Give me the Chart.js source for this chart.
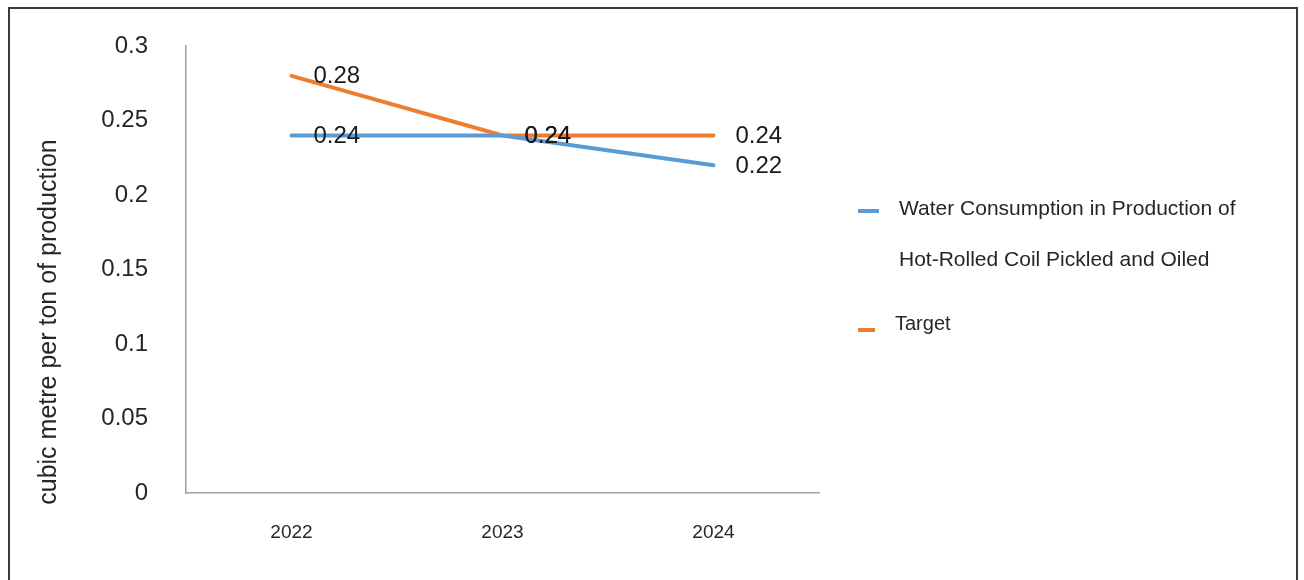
<!DOCTYPE html>
<html>
<head>
<meta charset="utf-8">
<script src="https://cdn.jsdelivr.net/npm/chart.js@4"></script>
<style>
  body { margin: 0; background: #fff; }
  #wrap { position: relative; width: 1304px; height: 580px; overflow: hidden; }
  #frame { position: absolute; left: 8px; top: 7px; width: 1290px; height: 600px;
           border: 2px solid #3a3a3a; box-sizing: border-box; }
  #legend { position: absolute; left: 858px; top: 0; font-family: "Liberation Sans", Arial, sans-serif;
            color: #262626; }
  .item { position: absolute; white-space: nowrap; }
  .swatch { position: absolute; height: 4px; }
</style>
</head>
<body>
<div id="wrap">
  <div id="frame"></div>
  <canvas id="chart" width="1304" height="580"></canvas>
  <div id="legend"></div>
</div>
<script>
const years = ["2022", "2023", "2024"];
const waterValues = [0.24, 0.24, 0.22];
const targetValues = [0.28, 0.24, 0.24];
const yTickLabels = ["0", "0.05", "0.1", "0.15", "0.2", "0.25", "0.3"];
const waterName = ["Water Consumption in Production of", "Hot-Rolled Coil Pickled and Oiled"];
const targetName = "Target";
const yTitle = "cubic metre per ton of production";

const BLUE = "#5b9bd5";
const ORANGE = "#ed7d31";
const TEXT = "#262626";
const FONT = "'Liberation Sans', Arial, sans-serif";

// value labels to the right of each point, drawn over the lines
const pointLabels = {
  id: "pointLabels",
  afterDatasetsDraw(chart) {
    const ctx = chart.ctx;
    ctx.save();
    ctx.font = "24px " + FONT;
    ctx.fillStyle = "#1a1a1a";
    ctx.textAlign = "left";
    ctx.textBaseline = "middle";
    chart.data.datasets.forEach((ds, i) => {
      chart.getDatasetMeta(i).data.forEach((pt, j) => {
        ctx.fillText(ds.data[j].toFixed(2), pt.x + 22, pt.y + 1);
      });
    });
    ctx.restore();
  }
};

const axisTitle = {
  id: "axisTitle",
  afterDraw(chart) {
    const ctx = chart.ctx;
    ctx.save();
    ctx.translate(49, 322);
    ctx.rotate(-Math.PI / 2);
    ctx.font = "25px " + FONT;
    ctx.fillStyle = TEXT;
    ctx.textAlign = "center";
    ctx.textBaseline = "middle";
    ctx.fillText(yTitle, 0, 0);
    ctx.restore();
  }
};

new Chart(document.getElementById("chart").getContext("2d"), {
  type: "line",
  data: {
    labels: years,
    datasets: [
      { label: waterName.join(" "), data: waterValues, borderColor: BLUE, backgroundColor: BLUE,
        borderWidth: 4, pointRadius: 0, tension: 0, fill: false, borderCapStyle: "round" },
      { label: targetName, data: targetValues, borderColor: ORANGE, backgroundColor: ORANGE,
        borderWidth: 4, pointRadius: 0, tension: 0, fill: false, borderCapStyle: "round" }
    ]
  },
  options: {
    responsive: false,
    animation: false,
    layout: { padding: { left: 0, top: 46, right: 1304 - 819, bottom: 0 } },
    plugins: { legend: { display: false }, tooltip: { enabled: false } },
    scales: {
      x: {
        offset: true,
        grid: { display: false, drawTicks: false },
        border: { color: "#a0a0a0", width: 1.5 },
        ticks: { color: TEXT, font: { family: FONT, size: 19 }, padding: 28, maxRotation: 0 },
        afterFit: (s) => { s.height = 87; }
      },
      y: {
        min: 0,
        max: 0.3,
        grid: { display: false, drawTicks: false },
        border: { color: "#a0a0a0", width: 1.5 },
        ticks: {
          stepSize: 0.05,
          color: TEXT,
          font: { family: FONT, size: 24 },
          padding: 38,
          callback: (v, i) => yTickLabels[i]
        },
        afterFit: (s) => { s.width = 186; s.paddingTop = 0; s.paddingBottom = 0; }
      }
    }
  },
  plugins: [pointLabels, axisTitle]
});

// legend, laid out like the original at the right of the plot
const legend = document.getElementById("legend");
function addItem(color, swTop, swWidth, lines, textLeft, textTops, size) {
  const sw = document.createElement("div");
  sw.className = "swatch";
  sw.style.cssText = `left:0;top:${swTop}px;width:${swWidth}px;background:${color}`;
  legend.appendChild(sw);
  lines.forEach((line, k) => {
    const t = document.createElement("div");
    t.className = "item";
    t.style.cssText = `left:${textLeft}px;top:${textTops[k]}px;font-size:${size}px`;
    t.textContent = line;
    legend.appendChild(t);
  });
}
addItem(BLUE, 209, 21, waterName, 41, [196, 247], 21);
addItem(ORANGE, 328, 17, [targetName], 37, [312], 20);
</script>
</body>
</html>
